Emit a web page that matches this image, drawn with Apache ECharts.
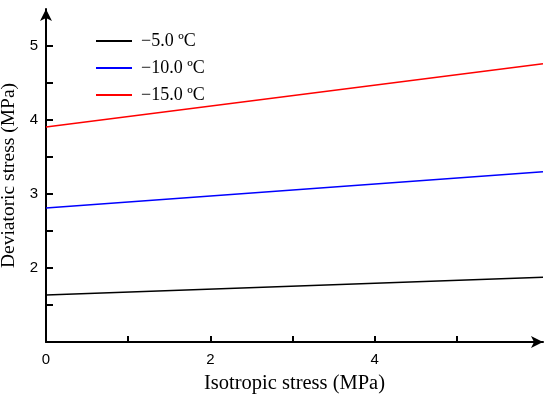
<!DOCTYPE html>
<html>
<head>
<meta charset="utf-8">
<script src="https://cdn.jsdelivr.net/npm/echarts@6/dist/echarts.min.js"></script>
<style>html,body{margin:0;padding:0;background:#fff}#c{width:550px;height:398px}</style>
</head>
<body>
<div id="c"></div>
<script>
var isoStress = [0, 6.05];
var dev5 = [1.635, 1.875];
var dev10 = [2.81, 3.30];
var dev15 = [3.905, 4.76];
var seriesNames = ['\u22125.0 \u00baC', '\u221210.0 \u00baC', '\u221215.0 \u00baC'];
var xTickValues = [1, 2, 3, 4, 5];
var xLabelValues = [0, 2, 4];
var yTickValues = [1.5, 2, 2.5, 3, 3.5, 4, 4.5, 5];
var yLabelValues = [2, 3, 4, 5];

function pairs(xs, ys) { return xs.map(function (x, i) { return [x, ys[i]]; }); }

var chart = echarts.init(document.getElementById('c'), null, {renderer: 'canvas'});
var axisLineStyle = {color: '#000', width: 2};
chart.setOption({
  animation: false,
  grid: {left: 46, right: 7, top: 9, bottom: 56, containLabel: false, outerBoundsMode: 'none'},
  legend: {
    orient: 'vertical', left: 96, top: 32, padding: 0,
    icon: 'rect', itemWidth: 36, itemHeight: 2, itemGap: 9,
    textStyle: {fontFamily: 'Liberation Serif', fontSize: 18, color: '#000', padding: [0, 0, 0, 4]},
    data: seriesNames
  },
  xAxis: {
    type: 'value', min: 0, max: 6.05,
    name: 'Isotropic stress (MPa)', nameLocation: 'middle', nameGap: 31,
    nameTextStyle: {fontFamily: 'Liberation Serif', fontSize: 20.5, color: '#000'},
    axisLine: {lineStyle: axisLineStyle, symbol: ['none', 'arrow'], symbolSize: [9, 12], symbolOffset: [0, 0]},
    axisTick: {inside: true, length: 6, lineStyle: {color: '#000', width: 2}, customValues: xTickValues},
    axisLabel: {customValues: xLabelValues, fontFamily: 'Liberation Sans', fontSize: 15, color: '#000', margin: 10},
    splitLine: {show: false}
  },
  yAxis: {
    type: 'value', min: 1, max: 5.5,
    name: 'Deviatoric stress (MPa)', nameLocation: 'middle', nameGap: 24,
    nameTextStyle: {fontFamily: 'Liberation Serif', fontSize: 19.5, color: '#000'},
    axisLine: {lineStyle: axisLineStyle, symbol: ['none', 'arrow'], symbolSize: [9, 12], symbolOffset: [0, 0]},
    axisTick: {inside: true, length: 7, lineStyle: {color: '#000', width: 2}, customValues: yTickValues},
    axisLabel: {customValues: yLabelValues, fontFamily: 'Liberation Sans', fontSize: 15, color: '#000', margin: 8},
    splitLine: {show: false}
  },
  series: [
    {name: seriesNames[0], type: 'line', symbol: 'none', data: pairs(isoStress, dev5), lineStyle: {color: '#000000', width: 1.6}, itemStyle: {color: '#000000'}},
    {name: seriesNames[1], type: 'line', symbol: 'none', data: pairs(isoStress, dev10), lineStyle: {color: '#0000ff', width: 1.6}, itemStyle: {color: '#0000ff'}},
    {name: seriesNames[2], type: 'line', symbol: 'none', data: pairs(isoStress, dev15), lineStyle: {color: '#ff0000', width: 1.6}, itemStyle: {color: '#ff0000'}}
  ]
});
</script>
</body>
</html>
